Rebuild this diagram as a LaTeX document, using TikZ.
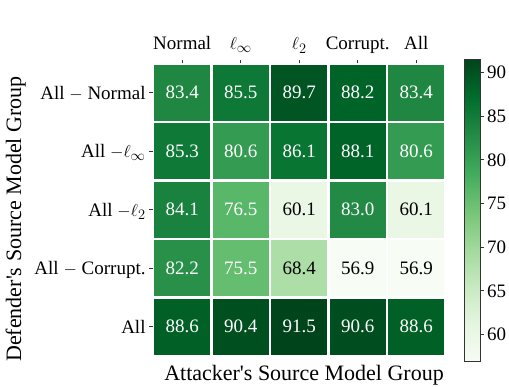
\documentclass[tikz,border=0pt]{standalone}
\usepackage{fontspec}
\setmainfont{Liberation Serif}
\usepackage{pgfplots}
\pgfplotsset{compat=1.18}
\usetikzlibrary{calc,positioning}

% greens colour scale
\definecolor{gA}{RGB}{247,252,245}
\definecolor{gB}{RGB}{229,245,224}
\definecolor{gC}{RGB}{199,233,192}
\definecolor{gD}{RGB}{161,217,155}
\definecolor{gE}{RGB}{116,196,118}
\definecolor{gF}{RGB}{65,171,93}
\definecolor{gG}{RGB}{35,139,69}
\definecolor{gH}{RGB}{0,109,44}
\definecolor{gI}{RGB}{0,68,27}
\pgfplotsset{colormap={greens}{color=(gA) color=(gB) color=(gC) color=(gD) color=(gE) color=(gF) color=(gG) color=(gH) color=(gI)}}
\pgfdeclareverticalshading{greensbar}{100bp}{color(0bp)=(gA); color(25bp)=(gA); color(31.25bp)=(gB); color(37.5bp)=(gC); color(43.75bp)=(gD); color(50bp)=(gE); color(56.25bp)=(gF); color(62.5bp)=(gG); color(68.75bp)=(gH); color(75bp)=(gI); color(100bp)=(gI)}

\begin{document}
\begin{tikzpicture}[x=1pt,y=-1pt,
	cell/.style={minimum size=56.2pt,inner sep=0pt,font=\fontsize{19}{22}\selectfont},
	ticklab/.style={inner sep=0pt,font=\fontsize{19}{22}\selectfont},
	axlab/.style={inner sep=0pt,font=\fontsize{22}{26}\selectfont},
	tickmark/.style={line width=0.8pt,black!80}]
\useasboundingbox (0,0) rectangle (509,386);

% heatmap, one row per defender group
\foreach \vals [count=\r] in {{83.4,85.5,89.7,88.2,83.4},{85.3,80.6,86.1,88.1,80.6},{84.1,76.5,60.1,83.0,60.1},{82.2,75.5,68.4,56.9,56.9},{88.6,90.4,91.5,90.6,88.6}}
{
	\foreach \v [count=\c] in \vals {
		\pgfplotscolormapaccess[56.9:91.5]{\v}{greens}
		\edef\setcell{\noexpand\definecolor{cellfill}{rgb}{\pgfmathresult}}\setcell
		\ifdim\v pt<70pt \def\tc{black}\else\def\tc{white}\fi
		\node[cell,fill=cellfill,text=\tc] (c-\r-\c) at ({153+(\c-0.5)*58.5},{63.5+(\r-0.5)*58.5}) {\v};
	}
}

% attacker groups on top
\foreach \lab [count=\c] in {Normal,$\ell_\infty$,$\ell_2$,Corrupt.,All} {
	\draw[tickmark] (c-1-\c.north) ++(0,-1.2) coordinate (xt-\c) -- ++(0,-3.5);
	\node[ticklab,anchor=base] (xl-\c) at ($(xt-\c)+(0,-13.5)$) {\lab};
}

% defender groups on the left
\foreach \lab [count=\r] in {All $-$ Normal,All $-\ell_\infty$,All $-\ell_2$,All $-$ Corrupt.,All} {
	\draw[tickmark] (c-\r-1.west) ++(-1.2,0) coordinate (yt-\r) -- ++(-3.5,0);
	\node[ticklab,anchor=base east] (yl-\r) at ($(yt-\r)+(-7,6.3)$) {\lab};
}

% colour bar
\coordinate (cb-sw) at (464,361.5);
\coordinate (cb-ne) at (480,59.5);
\shade[shading=greensbar] (cb-sw) rectangle (cb-ne);
\draw[line width=0.8pt,black!80] (cb-sw) rectangle (cb-ne);
\foreach \t in {60,65,...,90} {
	\pgfmathsetmacro\ty{361.5-(\t-56.9)*302/34.6}
	\draw[tickmark] (480,\ty) coordinate (cbt-\t) -- ++(3.5,0);
	\node[ticklab,anchor=base west] (cbl-\t) at ($(cbt-\t)+(7,6.3)$) {\t};
}

\node[axlab,anchor=base] (xlabel) at (304,380.5) {Attacker\textquotesingle s Source Model Group};
\node[axlab,anchor=base,rotate=90] (ylabel) at (21,219) {Defender\textquotesingle s Source Model Group};

\end{tikzpicture}
\end{document}
